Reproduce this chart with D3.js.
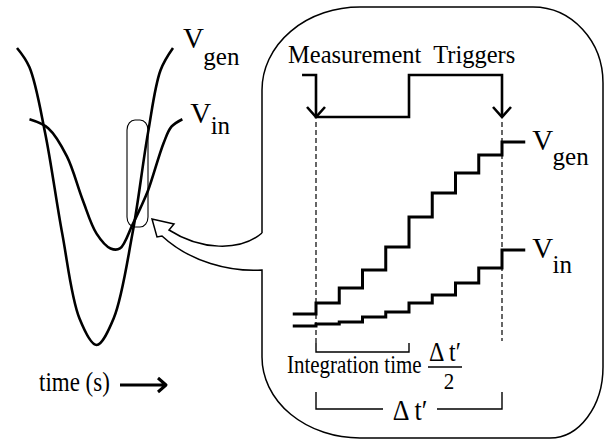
<!DOCTYPE html>
<meta charset="utf-8">
<script src="https://cdn.jsdelivr.net/npm/d3@7/dist/d3.min.js"></script>
<style>
  body { margin: 0; background: #fff; }
  svg text { font-family: "Liberation Serif", "Times New Roman", serif; fill: #000; }
  .wave { fill: none; stroke: #000; stroke-width: 2.6px; stroke-linejoin: round; }
  .stair { fill: none; stroke: #000; stroke-width: 3px; stroke-linejoin: miter; }
  .thin { fill: none; stroke: #000; stroke-width: 1.4px; }
  .dash { fill: none; stroke: #000; stroke-width: 1.2px; stroke-dasharray: 5 3; }
</style>
<body>
<div id="fig"></div>
<script>
// left panel: one period of both waveforms (time in arb. units, volts normalised)
var genTime = [0, 0.8, 1.8, 2.9, 4.0, 5.1, 6.2, 7.4, 8.4, 9.2, 10];
var genVolt = [1.0, 0.87, 0.43, -0.25, -0.82, -1.0, -0.82, -0.25, 0.43, 0.85, 1.0];
var inTime = [0.8, 2.0, 3.2, 4.2, 5.1, 6.0, 6.6, 7.4, 7.9, 8.4, 9.4, 9.9, 10.6];
var inVolt = [0.52, 0.46, 0.27, -0.02, -0.25, -0.35, -0.35, -0.19, -0.08, 0.04, 0.36, 0.47, 0.52];

// right panel: held level for each sample slot, slot -1 .. 8
var genSteps = [0.08, 0.135, 0.21, 0.30, 0.415, 0.565, 0.685, 0.785, 0.875, 0.94];
var inSteps = [0.02, 0.03, 0.04, 0.065, 0.09, 0.135, 0.175, 0.235, 0.31, 0.40];
var triggerAt = [0, 8];
var gateTimes = [-0.6, 0, 4, 8];
var gateLevels = [1, 0, 1, 0];

var width = 605, height = 442;

var svg = d3.select("#fig").append("svg")
    .attr("width", width)
    .attr("height", height);

// scales
var xL = d3.scaleLinear().domain([0, 10]).range([17, 173]);
var yL = d3.scaleLinear().domain([-1, 1]).range([345, 48]);
var xR = d3.scaleLinear().domain([0, 8]).range([316, 502]);
var yR = d3.scaleLinear().domain([0, 1]).range([330, 130]);
var yG = d3.scaleLinear().domain([0, 1]).range([117, 75]);

// ---- callout bubble with its hollow pointer
var box = {l: 262, t: 7, r: 603, b: 438};
var bubble = "M" + box.l + ",233 L" + box.l + ",90" +
    " A98,83 0 0 1 360," + box.t +
    " L533," + box.t + " A70,76 0 0 1 " + box.r + ",83" +
    " L" + box.r + ",367 A53,71 0 0 1 550," + box.b +
    " L360," + box.b + " A98,81 0 0 1 " + box.l + ",357" +
    " L" + box.l + ",270 C230,272 190,262 162,236" +
    " L157,237 L152,219 L174,224 L169,230" +
    " C200,250 240,252 " + box.l + ",233";
svg.append("path").attr("class", "thin").attr("d", bubble).style("stroke-width", "1.5px");

// little zoom window on the left curves
svg.append("rect").attr("class", "thin")
    .attr("x", 127).attr("y", 120).attr("width", 21).attr("height", 107)
    .attr("rx", 8).attr("ry", 10)
    .style("stroke-width", "1.1px");

// ---- left panel curves
var lineL = d3.line()
    .x(function(d) { return xL(d[0]); })
    .y(function(d) { return yL(d[1]); })
    .curve(d3.curveCatmullRom.alpha(0.5));

svg.append("path").attr("class", "wave")
    .attr("d", lineL(d3.zip(genTime, genVolt)));
svg.append("path").attr("class", "wave")
    .attr("d", lineL(d3.zip(inTime, inVolt)));

function vlabel(x, y, sub, vSize, subSize, subDy) {
    svg.append("text").attr("x", x).attr("y", y)
        .style("font-size", vSize + "px").text("V");
    svg.append("text").attr("x", x + vSize * 0.7).attr("y", y + subDy)
        .style("font-size", subSize + "px").text(sub);
}

// text a little taller than wide, as in the original figure
function tallText(x, y, size, stretch, str, anchor) {
    return svg.append("text")
        .attr("transform", "translate(" + x + "," + y + ") scale(1," + stretch + ")")
        .attr("text-anchor", anchor || "start")
        .style("font-size", size + "px").text(str);
}

var gEnd = [genTime[genTime.length - 1], genVolt[genVolt.length - 1]];
var iEnd = [inTime[inTime.length - 1], inVolt[inVolt.length - 1]];
vlabel(xL(gEnd[0]) + 10, yL(gEnd[1]), "gen", 29, 25, 17);
vlabel(xL(iEnd[0]) + 8, yL(iEnd[1]) + 4, "in", 29, 25, 11);

// time axis hint
tallText(39, 391, 23, 1.18, "time (s)");
svg.append("path").attr("class", "wave").style("stroke-width", "3px")
    .attr("d", "M120,385 L165,385 M158,378 L166,385 L158,392");

// ---- right panel: measurement trigger line
var gate = d3.line()
    .x(function(d) { return xR(d[0]); })
    .y(function(d) { return yG(d[1]); })
    .curve(d3.curveStepAfter);

svg.append("path").attr("class", "stair").style("stroke-width", "2.6px")
    .attr("d", gate(d3.zip(gateTimes, gateLevels)));

triggerAt.forEach(function(t) {
    var x = xR(t), y = yG(0);
    svg.append("path").attr("class", "stair").style("stroke-width", "2.6px")
        .attr("d", "M" + (x - 9) + "," + (y - 10) + " L" + x + "," + y + " L" + (x + 9) + "," + (y - 10));
});

svg.append("text").attr("x", 288).attr("y", 63)
    .style("font-size", "24.5px").style("white-space", "pre")
    .text("Measurement  Triggers");

// dashed trigger markers
svg.append("line").attr("class", "dash")
    .attr("x1", xR(triggerAt[0])).attr("x2", xR(triggerAt[0]))
    .attr("y1", 122).attr("y2", 346);
svg.append("line").attr("class", "dash")
    .attr("x1", xR(triggerAt[1])).attr("x2", xR(triggerAt[1]))
    .attr("y1", 122).attr("y2", 341);

// ---- staircases
var stair = d3.line()
    .x(function(d) { return xR(d[0]); })
    .y(function(d) { return yR(d[1]); })
    .curve(d3.curveStepAfter);

function stairPts(levels) {
    var pts = levels.map(function(v, i) { return [i - 1, v]; });
    pts.push([levels.length - 1, levels[levels.length - 1]]);
    return pts;
}

svg.append("path").attr("class", "stair").attr("d", stair(stairPts(genSteps)));
svg.append("path").attr("class", "stair").attr("d", stair(stairPts(inSteps)));

vlabel(xR(9) + 7, yR(genSteps[genSteps.length - 1]) + 8, "gen", 29, 25, 15);
vlabel(xR(9) + 7, yR(inSteps[inSteps.length - 1]) + 8, "in", 29, 25, 15);

// ---- brackets
var half = (triggerAt[0] + triggerAt[1]) / 2;
svg.append("path").attr("class", "thin")
    .attr("d", "M" + xR(triggerAt[0]) + ",343 V352 H" + xR(half) + " V343");

tallText(287, 373, 21, 1.22, "Integration time");

// fraction Δt'/2
tallText(445, 361, 24, 1.1, "\u0394 t\u2032", "middle");
svg.append("line").attr("class", "thin")
    .attr("x1", 428).attr("x2", 462).attr("y1", 367).attr("y2", 367)
    .style("stroke-width", "1.3px");
tallText(449, 389, 21, 1.1, "2", "middle");

svg.append("path").attr("class", "thin")
    .attr("d", "M" + xR(triggerAt[0]) + ",392 V409 H383 M437,409 H" + xR(triggerAt[1]) + " V392");
tallText(410, 420, 26, 1.1, "\u0394 t\u2032", "middle");
</script>
</body>
